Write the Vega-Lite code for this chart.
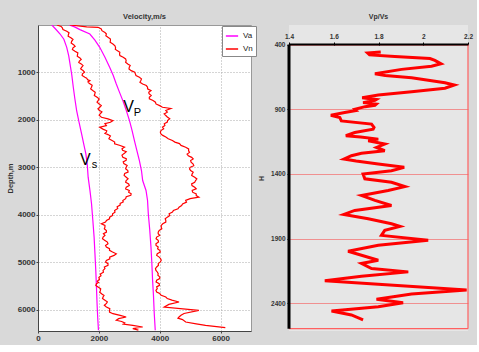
{
  "$schema": "https://vega.github.io/schema/vega-lite/v6.json",
  "background": "#d9d9d9",
  "padding": {"left": 5, "top": 12, "right": 4, "bottom": 2},
  "spacing": 5,
  "config": {
    "font": "Liberation Sans",
    "axis": {"labelFont": "Liberation Sans", "titleFont": "Liberation Sans", "labelFontWeight": "bold", "titleFontWeight": "bold", "labelColor": "#333", "titleColor": "#333"},
    "title": {"font": "Liberation Sans", "fontWeight": "bold", "color": "#333"},
    "legend": {"labelFont": "Liberation Sans"}
  },
  "datasets": {
    "vel": [
      {"curve": "Va_s", "type": "Va", "depth": 0, "v": 456},
      {"curve": "Va_s", "type": "Va", "depth": 100, "v": 600},
      {"curve": "Va_s", "type": "Va", "depth": 190, "v": 726},
      {"curve": "Va_s", "type": "Va", "depth": 300, "v": 850},
      {"curve": "Va_s", "type": "Va", "depth": 471, "v": 944},
      {"curve": "Va_s", "type": "Va", "depth": 650, "v": 1010},
      {"curve": "Va_s", "type": "Va", "depth": 821, "v": 1052},
      {"curve": "Va_s", "type": "Va", "depth": 1050, "v": 1110},
      {"curve": "Va_s", "type": "Va", "depth": 1313, "v": 1160},
      {"curve": "Va_s", "type": "Va", "depth": 1550, "v": 1210},
      {"curve": "Va_s", "type": "Va", "depth": 1804, "v": 1270},
      {"curve": "Va_s", "type": "Va", "depth": 2050, "v": 1350},
      {"curve": "Va_s", "type": "Va", "depth": 2295, "v": 1433},
      {"curve": "Va_s", "type": "Va", "depth": 2500, "v": 1500},
      {"curve": "Va_s", "type": "Va", "depth": 2716, "v": 1573},
      {"curve": "Va_s", "type": "Va", "depth": 2950, "v": 1620},
      {"curve": "Va_s", "type": "Va", "depth": 3208, "v": 1648},
      {"curve": "Va_s", "type": "Va", "depth": 3500, "v": 1710},
      {"curve": "Va_s", "type": "Va", "depth": 3768, "v": 1759},
      {"curve": "Va_s", "type": "Va", "depth": 4100, "v": 1800},
      {"curve": "Va_s", "type": "Va", "depth": 4471, "v": 1844},
      {"curve": "Va_s", "type": "Va", "depth": 4800, "v": 1870},
      {"curve": "Va_s", "type": "Va", "depth": 5173, "v": 1899},
      {"curve": "Va_s", "type": "Va", "depth": 5500, "v": 1920},
      {"curve": "Va_s", "type": "Va", "depth": 5874, "v": 1941},
      {"curve": "Va_s", "type": "Va", "depth": 6200, "v": 1965},
      {"curve": "Va_s", "type": "Va", "depth": 6436, "v": 1987},
      {"curve": "Va_p", "type": "Va", "depth": 0, "v": 1030},
      {"curve": "Va_p", "type": "Va", "depth": 40, "v": 1200},
      {"curve": "Va_p", "type": "Va", "depth": 97, "v": 1378},
      {"curve": "Va_p", "type": "Va", "depth": 190, "v": 1704},
      {"curve": "Va_p", "type": "Va", "depth": 320, "v": 1870},
      {"curve": "Va_p", "type": "Va", "depth": 471, "v": 2029},
      {"curve": "Va_p", "type": "Va", "depth": 680, "v": 2200},
      {"curve": "Va_p", "type": "Va", "depth": 892, "v": 2355},
      {"curve": "Va_p", "type": "Va", "depth": 1060, "v": 2470},
      {"curve": "Va_p", "type": "Va", "depth": 1243, "v": 2573},
      {"curve": "Va_p", "type": "Va", "depth": 1420, "v": 2680},
      {"curve": "Va_p", "type": "Va", "depth": 1594, "v": 2788},
      {"curve": "Va_p", "type": "Va", "depth": 1800, "v": 2900},
      {"curve": "Va_p", "type": "Va", "depth": 2015, "v": 3007},
      {"curve": "Va_p", "type": "Va", "depth": 2220, "v": 3090},
      {"curve": "Va_p", "type": "Va", "depth": 2436, "v": 3169},
      {"curve": "Va_p", "type": "Va", "depth": 2650, "v": 3250},
      {"curve": "Va_p", "type": "Va", "depth": 2857, "v": 3332},
      {"curve": "Va_p", "type": "Va", "depth": 3067, "v": 3400},
      {"curve": "Va_p", "type": "Va", "depth": 3278, "v": 3440},
      {"curve": "Va_p", "type": "Va", "depth": 3488, "v": 3550},
      {"curve": "Va_p", "type": "Va", "depth": 3700, "v": 3600},
      {"curve": "Va_p", "type": "Va", "depth": 3980, "v": 3625},
      {"curve": "Va_p", "type": "Va", "depth": 4300, "v": 3670},
      {"curve": "Va_p", "type": "Va", "depth": 4682, "v": 3713},
      {"curve": "Va_p", "type": "Va", "depth": 5000, "v": 3740},
      {"curve": "Va_p", "type": "Va", "depth": 5383, "v": 3766},
      {"curve": "Va_p", "type": "Va", "depth": 5700, "v": 3795},
      {"curve": "Va_p", "type": "Va", "depth": 6085, "v": 3821},
      {"curve": "Va_p", "type": "Va", "depth": 6436, "v": 3853},
      {"curve": "Vn_s", "type": "Vn", "depth": 0, "v": 620},
      {"curve": "Vn_s", "type": "Vn", "depth": 30, "v": 760},
      {"curve": "Vn_s", "type": "Vn", "depth": 60, "v": 800},
      {"curve": "Vn_s", "type": "Vn", "depth": 95, "v": 820},
      {"curve": "Vn_s", "type": "Vn", "depth": 130, "v": 945},
      {"curve": "Vn_s", "type": "Vn", "depth": 165, "v": 1020},
      {"curve": "Vn_s", "type": "Vn", "depth": 200, "v": 1000},
      {"curve": "Vn_s", "type": "Vn", "depth": 235, "v": 990},
      {"curve": "Vn_s", "type": "Vn", "depth": 270, "v": 1080},
      {"curve": "Vn_s", "type": "Vn", "depth": 305, "v": 1150},
      {"curve": "Vn_s", "type": "Vn", "depth": 343, "v": 1107},
      {"curve": "Vn_s", "type": "Vn", "depth": 380, "v": 1090},
      {"curve": "Vn_s", "type": "Vn", "depth": 420, "v": 1180},
      {"curve": "Vn_s", "type": "Vn", "depth": 450, "v": 1220},
      {"curve": "Vn_s", "type": "Vn", "depth": 480, "v": 1150},
      {"curve": "Vn_s", "type": "Vn", "depth": 517, "v": 1130},
      {"curve": "Vn_s", "type": "Vn", "depth": 554, "v": 1215},
      {"curve": "Vn_s", "type": "Vn", "depth": 587, "v": 1310},
      {"curve": "Vn_s", "type": "Vn", "depth": 620, "v": 1300},
      {"curve": "Vn_s", "type": "Vn", "depth": 657, "v": 1290},
      {"curve": "Vn_s", "type": "Vn", "depth": 694, "v": 1378},
      {"curve": "Vn_s", "type": "Vn", "depth": 727, "v": 1420},
      {"curve": "Vn_s", "type": "Vn", "depth": 760, "v": 1360},
      {"curve": "Vn_s", "type": "Vn", "depth": 790, "v": 1340},
      {"curve": "Vn_s", "type": "Vn", "depth": 820, "v": 1420},
      {"curve": "Vn_s", "type": "Vn", "depth": 856, "v": 1480},
      {"curve": "Vn_s", "type": "Vn", "depth": 892, "v": 1433},
      {"curve": "Vn_s", "type": "Vn", "depth": 926, "v": 1400},
      {"curve": "Vn_s", "type": "Vn", "depth": 960, "v": 1480},
      {"curve": "Vn_s", "type": "Vn", "depth": 995, "v": 1530},
      {"curve": "Vn_s", "type": "Vn", "depth": 1030, "v": 1460},
      {"curve": "Vn_s", "type": "Vn", "depth": 1066, "v": 1450},
      {"curve": "Vn_s", "type": "Vn", "depth": 1103, "v": 1541},
      {"curve": "Vn_s", "type": "Vn", "depth": 1120, "v": 1600},
      {"curve": "Vn_s", "type": "Vn", "depth": 1140, "v": 1620},
      {"curve": "Vn_s", "type": "Vn", "depth": 1157, "v": 1640},
      {"curve": "Vn_s", "type": "Vn", "depth": 1173, "v": 1704},
      {"curve": "Vn_s", "type": "Vn", "depth": 1200, "v": 1640},
      {"curve": "Vn_s", "type": "Vn", "depth": 1230, "v": 1680},
      {"curve": "Vn_s", "type": "Vn", "depth": 1270, "v": 1780},
      {"curve": "Vn_s", "type": "Vn", "depth": 1313, "v": 1759},
      {"curve": "Vn_s", "type": "Vn", "depth": 1346, "v": 1730},
      {"curve": "Vn_s", "type": "Vn", "depth": 1380, "v": 1800},
      {"curve": "Vn_s", "type": "Vn", "depth": 1417, "v": 1880},
      {"curve": "Vn_s", "type": "Vn", "depth": 1454, "v": 1866},
      {"curve": "Vn_s", "type": "Vn", "depth": 1487, "v": 1850},
      {"curve": "Vn_s", "type": "Vn", "depth": 1520, "v": 1930},
      {"curve": "Vn_s", "type": "Vn", "depth": 1557, "v": 2010},
      {"curve": "Vn_s", "type": "Vn", "depth": 1594, "v": 1974},
      {"curve": "Vn_s", "type": "Vn", "depth": 1627, "v": 1940},
      {"curve": "Vn_s", "type": "Vn", "depth": 1660, "v": 2000},
      {"curve": "Vn_s", "type": "Vn", "depth": 1697, "v": 2080},
      {"curve": "Vn_s", "type": "Vn", "depth": 1734, "v": 2029},
      {"curve": "Vn_s", "type": "Vn", "depth": 1767, "v": 1970},
      {"curve": "Vn_s", "type": "Vn", "depth": 1800, "v": 2010},
      {"curve": "Vn_s", "type": "Vn", "depth": 1830, "v": 2100},
      {"curve": "Vn_s", "type": "Vn", "depth": 1860, "v": 2060},
      {"curve": "Vn_s", "type": "Vn", "depth": 1900, "v": 2010},
      {"curve": "Vn_s", "type": "Vn", "depth": 1945, "v": 2084},
      {"curve": "Vn_s", "type": "Vn", "depth": 1980, "v": 2300},
      {"curve": "Vn_s", "type": "Vn", "depth": 2015, "v": 2462},
      {"curve": "Vn_s", "type": "Vn", "depth": 2050, "v": 2380},
      {"curve": "Vn_s", "type": "Vn", "depth": 2080, "v": 2200},
      {"curve": "Vn_s", "type": "Vn", "depth": 2120, "v": 2247},
      {"curve": "Vn_s", "type": "Vn", "depth": 2155, "v": 2029},
      {"curve": "Vn_s", "type": "Vn", "depth": 2200, "v": 2150},
      {"curve": "Vn_s", "type": "Vn", "depth": 2230, "v": 2260},
      {"curve": "Vn_s", "type": "Vn", "depth": 2260, "v": 2247},
      {"curve": "Vn_s", "type": "Vn", "depth": 2285, "v": 2200},
      {"curve": "Vn_s", "type": "Vn", "depth": 2310, "v": 2300},
      {"curve": "Vn_s", "type": "Vn", "depth": 2338, "v": 2380},
      {"curve": "Vn_s", "type": "Vn", "depth": 2366, "v": 2355},
      {"curve": "Vn_s", "type": "Vn", "depth": 2398, "v": 2330},
      {"curve": "Vn_s", "type": "Vn", "depth": 2430, "v": 2420},
      {"curve": "Vn_s", "type": "Vn", "depth": 2468, "v": 2520},
      {"curve": "Vn_s", "type": "Vn", "depth": 2506, "v": 2518},
      {"curve": "Vn_s", "type": "Vn", "depth": 2540, "v": 2700},
      {"curve": "Vn_s", "type": "Vn", "depth": 2576, "v": 2843},
      {"curve": "Vn_s", "type": "Vn", "depth": 2608, "v": 2760},
      {"curve": "Vn_s", "type": "Vn", "depth": 2640, "v": 2780},
      {"curve": "Vn_s", "type": "Vn", "depth": 2670, "v": 2900},
      {"curve": "Vn_s", "type": "Vn", "depth": 2700, "v": 2850},
      {"curve": "Vn_s", "type": "Vn", "depth": 2743, "v": 2760},
      {"curve": "Vn_s", "type": "Vn", "depth": 2787, "v": 2788},
      {"curve": "Vn_s", "type": "Vn", "depth": 2818, "v": 2900},
      {"curve": "Vn_s", "type": "Vn", "depth": 2850, "v": 2900},
      {"curve": "Vn_s", "type": "Vn", "depth": 2885, "v": 2800},
      {"curve": "Vn_s", "type": "Vn", "depth": 2920, "v": 2820},
      {"curve": "Vn_s", "type": "Vn", "depth": 2960, "v": 2930},
      {"curve": "Vn_s", "type": "Vn", "depth": 2998, "v": 2897},
      {"curve": "Vn_s", "type": "Vn", "depth": 3030, "v": 2880},
      {"curve": "Vn_s", "type": "Vn", "depth": 3067, "v": 2951},
      {"curve": "Vn_s", "type": "Vn", "depth": 3100, "v": 2960},
      {"curve": "Vn_s", "type": "Vn", "depth": 3130, "v": 2850},
      {"curve": "Vn_s", "type": "Vn", "depth": 3170, "v": 2830},
      {"curve": "Vn_s", "type": "Vn", "depth": 3208, "v": 2900},
      {"curve": "Vn_s", "type": "Vn", "depth": 3243, "v": 2960},
      {"curve": "Vn_s", "type": "Vn", "depth": 3278, "v": 2897},
      {"curve": "Vn_s", "type": "Vn", "depth": 3314, "v": 2880},
      {"curve": "Vn_s", "type": "Vn", "depth": 3350, "v": 2980},
      {"curve": "Vn_s", "type": "Vn", "depth": 3385, "v": 3000},
      {"curve": "Vn_s", "type": "Vn", "depth": 3420, "v": 2900},
      {"curve": "Vn_s", "type": "Vn", "depth": 3455, "v": 2880},
      {"curve": "Vn_s", "type": "Vn", "depth": 3490, "v": 3000},
      {"curve": "Vn_s", "type": "Vn", "depth": 3524, "v": 2980},
      {"curve": "Vn_s", "type": "Vn", "depth": 3558, "v": 3062},
      {"curve": "Vn_s", "type": "Vn", "depth": 3590, "v": 3050},
      {"curve": "Vn_s", "type": "Vn", "depth": 3620, "v": 2900},
      {"curve": "Vn_s", "type": "Vn", "depth": 3660, "v": 2880},
      {"curve": "Vn_s", "type": "Vn", "depth": 3698, "v": 2788},
      {"curve": "Vn_s", "type": "Vn", "depth": 3730, "v": 2800},
      {"curve": "Vn_s", "type": "Vn", "depth": 3760, "v": 2700},
      {"curve": "Vn_s", "type": "Vn", "depth": 3795, "v": 2700},
      {"curve": "Vn_s", "type": "Vn", "depth": 3830, "v": 2600},
      {"curve": "Vn_s", "type": "Vn", "depth": 3870, "v": 2620},
      {"curve": "Vn_s", "type": "Vn", "depth": 3909, "v": 2518},
      {"curve": "Vn_s", "type": "Vn", "depth": 3945, "v": 2530},
      {"curve": "Vn_s", "type": "Vn", "depth": 3980, "v": 2450},
      {"curve": "Vn_s", "type": "Vn", "depth": 4015, "v": 2450},
      {"curve": "Vn_s", "type": "Vn", "depth": 4050, "v": 2355},
      {"curve": "Vn_s", "type": "Vn", "depth": 4085, "v": 2350},
      {"curve": "Vn_s", "type": "Vn", "depth": 4120, "v": 2250},
      {"curve": "Vn_s", "type": "Vn", "depth": 4155, "v": 2220},
      {"curve": "Vn_s", "type": "Vn", "depth": 4190, "v": 2084},
      {"curve": "Vn_s", "type": "Vn", "depth": 4225, "v": 2200},
      {"curve": "Vn_s", "type": "Vn", "depth": 4260, "v": 2200},
      {"curve": "Vn_s", "type": "Vn", "depth": 4295, "v": 2180},
      {"curve": "Vn_s", "type": "Vn", "depth": 4331, "v": 2247},
      {"curve": "Vn_s", "type": "Vn", "depth": 4365, "v": 2250},
      {"curve": "Vn_s", "type": "Vn", "depth": 4400, "v": 2150},
      {"curve": "Vn_s", "type": "Vn", "depth": 4435, "v": 2200},
      {"curve": "Vn_s", "type": "Vn", "depth": 4471, "v": 2138},
      {"curve": "Vn_s", "type": "Vn", "depth": 4505, "v": 2120},
      {"curve": "Vn_s", "type": "Vn", "depth": 4540, "v": 2200},
      {"curve": "Vn_s", "type": "Vn", "depth": 4575, "v": 2280},
      {"curve": "Vn_s", "type": "Vn", "depth": 4610, "v": 2300},
      {"curve": "Vn_s", "type": "Vn", "depth": 4646, "v": 2220},
      {"curve": "Vn_s", "type": "Vn", "depth": 4682, "v": 2247},
      {"curve": "Vn_s", "type": "Vn", "depth": 4716, "v": 2350},
      {"curve": "Vn_s", "type": "Vn", "depth": 4750, "v": 2350},
      {"curve": "Vn_s", "type": "Vn", "depth": 4786, "v": 2450},
      {"curve": "Vn_s", "type": "Vn", "depth": 4822, "v": 2573},
      {"curve": "Vn_s", "type": "Vn", "depth": 4857, "v": 2500},
      {"curve": "Vn_s", "type": "Vn", "depth": 4892, "v": 2355},
      {"curve": "Vn_s", "type": "Vn", "depth": 4928, "v": 2360},
      {"curve": "Vn_s", "type": "Vn", "depth": 4963, "v": 2247},
      {"curve": "Vn_s", "type": "Vn", "depth": 4996, "v": 2220},
      {"curve": "Vn_s", "type": "Vn", "depth": 5030, "v": 2300},
      {"curve": "Vn_s", "type": "Vn", "depth": 5065, "v": 2300},
      {"curve": "Vn_s", "type": "Vn", "depth": 5100, "v": 2180},
      {"curve": "Vn_s", "type": "Vn", "depth": 5136, "v": 2200},
      {"curve": "Vn_s", "type": "Vn", "depth": 5173, "v": 2138},
      {"curve": "Vn_s", "type": "Vn", "depth": 5210, "v": 2150},
      {"curve": "Vn_s", "type": "Vn", "depth": 5250, "v": 2050},
      {"curve": "Vn_s", "type": "Vn", "depth": 5285, "v": 2070},
      {"curve": "Vn_s", "type": "Vn", "depth": 5320, "v": 2000},
      {"curve": "Vn_s", "type": "Vn", "depth": 5360, "v": 2020},
      {"curve": "Vn_s", "type": "Vn", "depth": 5400, "v": 1950},
      {"curve": "Vn_s", "type": "Vn", "depth": 5427, "v": 1990},
      {"curve": "Vn_s", "type": "Vn", "depth": 5454, "v": 1921},
      {"curve": "Vn_s", "type": "Vn", "depth": 5490, "v": 1900},
      {"curve": "Vn_s", "type": "Vn", "depth": 5523, "v": 1974},
      {"curve": "Vn_s", "type": "Vn", "depth": 5560, "v": 2060},
      {"curve": "Vn_s", "type": "Vn", "depth": 5600, "v": 2050},
      {"curve": "Vn_s", "type": "Vn", "depth": 5635, "v": 2030},
      {"curve": "Vn_s", "type": "Vn", "depth": 5670, "v": 2100},
      {"curve": "Vn_s", "type": "Vn", "depth": 5700, "v": 2170},
      {"curve": "Vn_s", "type": "Vn", "depth": 5734, "v": 2138},
      {"curve": "Vn_s", "type": "Vn", "depth": 5767, "v": 2120},
      {"curve": "Vn_s", "type": "Vn", "depth": 5800, "v": 2200},
      {"curve": "Vn_s", "type": "Vn", "depth": 5835, "v": 2280},
      {"curve": "Vn_s", "type": "Vn", "depth": 5870, "v": 2250},
      {"curve": "Vn_s", "type": "Vn", "depth": 5908, "v": 2180},
      {"curve": "Vn_s", "type": "Vn", "depth": 5945, "v": 2247},
      {"curve": "Vn_s", "type": "Vn", "depth": 5980, "v": 2360},
      {"curve": "Vn_s", "type": "Vn", "depth": 6015, "v": 2350},
      {"curve": "Vn_s", "type": "Vn", "depth": 6050, "v": 2350},
      {"curve": "Vn_s", "type": "Vn", "depth": 6085, "v": 2462},
      {"curve": "Vn_s", "type": "Vn", "depth": 6120, "v": 2700},
      {"curve": "Vn_s", "type": "Vn", "depth": 6155, "v": 2897},
      {"curve": "Vn_s", "type": "Vn", "depth": 6190, "v": 2650},
      {"curve": "Vn_s", "type": "Vn", "depth": 6225, "v": 2573},
      {"curve": "Vn_s", "type": "Vn", "depth": 6250, "v": 2750},
      {"curve": "Vn_s", "type": "Vn", "depth": 6280, "v": 2850},
      {"curve": "Vn_s", "type": "Vn", "depth": 6305, "v": 2800},
      {"curve": "Vn_s", "type": "Vn", "depth": 6331, "v": 3115},
      {"curve": "Vn_s", "type": "Vn", "depth": 6366, "v": 3440},
      {"curve": "Vn_s", "type": "Vn", "depth": 6401, "v": 3115},
      {"curve": "Vn_s", "type": "Vn", "depth": 6430, "v": 3300},
      {"curve": "Vn_p", "type": "Vn", "depth": 0, "v": 1050},
      {"curve": "Vn_p", "type": "Vn", "depth": 40, "v": 1600},
      {"curve": "Vn_p", "type": "Vn", "depth": 49, "v": 1974},
      {"curve": "Vn_p", "type": "Vn", "depth": 85, "v": 2080},
      {"curve": "Vn_p", "type": "Vn", "depth": 120, "v": 2100},
      {"curve": "Vn_p", "type": "Vn", "depth": 155, "v": 2200},
      {"curve": "Vn_p", "type": "Vn", "depth": 190, "v": 2247},
      {"curve": "Vn_p", "type": "Vn", "depth": 225, "v": 2230},
      {"curve": "Vn_p", "type": "Vn", "depth": 260, "v": 2300},
      {"curve": "Vn_p", "type": "Vn", "depth": 295, "v": 2380},
      {"curve": "Vn_p", "type": "Vn", "depth": 330, "v": 2380},
      {"curve": "Vn_p", "type": "Vn", "depth": 365, "v": 2370},
      {"curve": "Vn_p", "type": "Vn", "depth": 400, "v": 2462},
      {"curve": "Vn_p", "type": "Vn", "depth": 440, "v": 2530},
      {"curve": "Vn_p", "type": "Vn", "depth": 480, "v": 2550},
      {"curve": "Vn_p", "type": "Vn", "depth": 510, "v": 2540},
      {"curve": "Vn_p", "type": "Vn", "depth": 540, "v": 2600},
      {"curve": "Vn_p", "type": "Vn", "depth": 575, "v": 2690},
      {"curve": "Vn_p", "type": "Vn", "depth": 610, "v": 2680},
      {"curve": "Vn_p", "type": "Vn", "depth": 645, "v": 2690},
      {"curve": "Vn_p", "type": "Vn", "depth": 680, "v": 2800},
      {"curve": "Vn_p", "type": "Vn", "depth": 715, "v": 2880},
      {"curve": "Vn_p", "type": "Vn", "depth": 751, "v": 2897},
      {"curve": "Vn_p", "type": "Vn", "depth": 785, "v": 2880},
      {"curve": "Vn_p", "type": "Vn", "depth": 820, "v": 2950},
      {"curve": "Vn_p", "type": "Vn", "depth": 855, "v": 3030},
      {"curve": "Vn_p", "type": "Vn", "depth": 890, "v": 3000},
      {"curve": "Vn_p", "type": "Vn", "depth": 926, "v": 2990},
      {"curve": "Vn_p", "type": "Vn", "depth": 962, "v": 3062},
      {"curve": "Vn_p", "type": "Vn", "depth": 996, "v": 3180},
      {"curve": "Vn_p", "type": "Vn", "depth": 1030, "v": 3200},
      {"curve": "Vn_p", "type": "Vn", "depth": 1066, "v": 3220},
      {"curve": "Vn_p", "type": "Vn", "depth": 1103, "v": 3332},
      {"curve": "Vn_p", "type": "Vn", "depth": 1136, "v": 3400},
      {"curve": "Vn_p", "type": "Vn", "depth": 1170, "v": 3380},
      {"curve": "Vn_p", "type": "Vn", "depth": 1206, "v": 3350},
      {"curve": "Vn_p", "type": "Vn", "depth": 1243, "v": 3440},
      {"curve": "Vn_p", "type": "Vn", "depth": 1276, "v": 3560},
      {"curve": "Vn_p", "type": "Vn", "depth": 1310, "v": 3600},
      {"curve": "Vn_p", "type": "Vn", "depth": 1346, "v": 3600},
      {"curve": "Vn_p", "type": "Vn", "depth": 1383, "v": 3713},
      {"curve": "Vn_p", "type": "Vn", "depth": 1416, "v": 3640},
      {"curve": "Vn_p", "type": "Vn", "depth": 1450, "v": 3650},
      {"curve": "Vn_p", "type": "Vn", "depth": 1487, "v": 3720},
      {"curve": "Vn_p", "type": "Vn", "depth": 1524, "v": 3658},
      {"curve": "Vn_p", "type": "Vn", "depth": 1557, "v": 3660},
      {"curve": "Vn_p", "type": "Vn", "depth": 1590, "v": 3780},
      {"curve": "Vn_p", "type": "Vn", "depth": 1627, "v": 3860},
      {"curve": "Vn_p", "type": "Vn", "depth": 1664, "v": 3876},
      {"curve": "Vn_p", "type": "Vn", "depth": 1700, "v": 4000},
      {"curve": "Vn_p", "type": "Vn", "depth": 1734, "v": 4091},
      {"curve": "Vn_p", "type": "Vn", "depth": 1760, "v": 4365},
      {"curve": "Vn_p", "type": "Vn", "depth": 1800, "v": 4200},
      {"curve": "Vn_p", "type": "Vn", "depth": 1837, "v": 4250},
      {"curve": "Vn_p", "type": "Vn", "depth": 1875, "v": 4147},
      {"curve": "Vn_p", "type": "Vn", "depth": 1907, "v": 4200},
      {"curve": "Vn_p", "type": "Vn", "depth": 1940, "v": 4250},
      {"curve": "Vn_p", "type": "Vn", "depth": 1977, "v": 4330},
      {"curve": "Vn_p", "type": "Vn", "depth": 2015, "v": 4255},
      {"curve": "Vn_p", "type": "Vn", "depth": 2047, "v": 4250},
      {"curve": "Vn_p", "type": "Vn", "depth": 2080, "v": 4150},
      {"curve": "Vn_p", "type": "Vn", "depth": 2117, "v": 4170},
      {"curve": "Vn_p", "type": "Vn", "depth": 2155, "v": 4091},
      {"curve": "Vn_p", "type": "Vn", "depth": 2187, "v": 4130},
      {"curve": "Vn_p", "type": "Vn", "depth": 2220, "v": 4050},
      {"curve": "Vn_p", "type": "Vn", "depth": 2257, "v": 4020},
      {"curve": "Vn_p", "type": "Vn", "depth": 2295, "v": 4039},
      {"curve": "Vn_p", "type": "Vn", "depth": 2327, "v": 4100},
      {"curve": "Vn_p", "type": "Vn", "depth": 2360, "v": 4200},
      {"curve": "Vn_p", "type": "Vn", "depth": 2398, "v": 4280},
      {"curve": "Vn_p", "type": "Vn", "depth": 2436, "v": 4417},
      {"curve": "Vn_p", "type": "Vn", "depth": 2468, "v": 4500},
      {"curve": "Vn_p", "type": "Vn", "depth": 2500, "v": 4650},
      {"curve": "Vn_p", "type": "Vn", "depth": 2538, "v": 4700},
      {"curve": "Vn_p", "type": "Vn", "depth": 2576, "v": 4853},
      {"curve": "Vn_p", "type": "Vn", "depth": 2613, "v": 4950},
      {"curve": "Vn_p", "type": "Vn", "depth": 2650, "v": 4950},
      {"curve": "Vn_p", "type": "Vn", "depth": 2685, "v": 4980},
      {"curve": "Vn_p", "type": "Vn", "depth": 2720, "v": 4900},
      {"curve": "Vn_p", "type": "Vn", "depth": 2755, "v": 4940},
      {"curve": "Vn_p", "type": "Vn", "depth": 2790, "v": 5050},
      {"curve": "Vn_p", "type": "Vn", "depth": 2823, "v": 5100},
      {"curve": "Vn_p", "type": "Vn", "depth": 2857, "v": 5016},
      {"curve": "Vn_p", "type": "Vn", "depth": 2893, "v": 5030},
      {"curve": "Vn_p", "type": "Vn", "depth": 2930, "v": 5100},
      {"curve": "Vn_p", "type": "Vn", "depth": 2965, "v": 5120},
      {"curve": "Vn_p", "type": "Vn", "depth": 3000, "v": 5000},
      {"curve": "Vn_p", "type": "Vn", "depth": 3033, "v": 4980},
      {"curve": "Vn_p", "type": "Vn", "depth": 3067, "v": 5016},
      {"curve": "Vn_p", "type": "Vn", "depth": 3102, "v": 5100},
      {"curve": "Vn_p", "type": "Vn", "depth": 3137, "v": 5068},
      {"curve": "Vn_p", "type": "Vn", "depth": 3173, "v": 5050},
      {"curve": "Vn_p", "type": "Vn", "depth": 3210, "v": 5150},
      {"curve": "Vn_p", "type": "Vn", "depth": 3244, "v": 5220},
      {"curve": "Vn_p", "type": "Vn", "depth": 3278, "v": 5179},
      {"curve": "Vn_p", "type": "Vn", "depth": 3314, "v": 5150},
      {"curve": "Vn_p", "type": "Vn", "depth": 3350, "v": 5050},
      {"curve": "Vn_p", "type": "Vn", "depth": 3385, "v": 5060},
      {"curve": "Vn_p", "type": "Vn", "depth": 3420, "v": 5150},
      {"curve": "Vn_p", "type": "Vn", "depth": 3454, "v": 5200},
      {"curve": "Vn_p", "type": "Vn", "depth": 3488, "v": 5068},
      {"curve": "Vn_p", "type": "Vn", "depth": 3524, "v": 5080},
      {"curve": "Vn_p", "type": "Vn", "depth": 3560, "v": 5200},
      {"curve": "Vn_p", "type": "Vn", "depth": 3595, "v": 5200},
      {"curve": "Vn_p", "type": "Vn", "depth": 3629, "v": 5287},
      {"curve": "Vn_p", "type": "Vn", "depth": 3660, "v": 5000},
      {"curve": "Vn_p", "type": "Vn", "depth": 3698, "v": 4853},
      {"curve": "Vn_p", "type": "Vn", "depth": 3734, "v": 4880},
      {"curve": "Vn_p", "type": "Vn", "depth": 3770, "v": 4750},
      {"curve": "Vn_p", "type": "Vn", "depth": 3805, "v": 4720},
      {"curve": "Vn_p", "type": "Vn", "depth": 3839, "v": 4635},
      {"curve": "Vn_p", "type": "Vn", "depth": 3875, "v": 4600},
      {"curve": "Vn_p", "type": "Vn", "depth": 3910, "v": 4450},
      {"curve": "Vn_p", "type": "Vn", "depth": 3945, "v": 4420},
      {"curve": "Vn_p", "type": "Vn", "depth": 3980, "v": 4309},
      {"curve": "Vn_p", "type": "Vn", "depth": 4015, "v": 4330},
      {"curve": "Vn_p", "type": "Vn", "depth": 4050, "v": 4250},
      {"curve": "Vn_p", "type": "Vn", "depth": 4085, "v": 4180},
      {"curve": "Vn_p", "type": "Vn", "depth": 4120, "v": 4200},
      {"curve": "Vn_p", "type": "Vn", "depth": 4155, "v": 4200},
      {"curve": "Vn_p", "type": "Vn", "depth": 4190, "v": 4100},
      {"curve": "Vn_p", "type": "Vn", "depth": 4225, "v": 4050},
      {"curve": "Vn_p", "type": "Vn", "depth": 4260, "v": 4050},
      {"curve": "Vn_p", "type": "Vn", "depth": 4295, "v": 4070},
      {"curve": "Vn_p", "type": "Vn", "depth": 4331, "v": 3984},
      {"curve": "Vn_p", "type": "Vn", "depth": 4365, "v": 3950},
      {"curve": "Vn_p", "type": "Vn", "depth": 4400, "v": 3950},
      {"curve": "Vn_p", "type": "Vn", "depth": 4435, "v": 4000},
      {"curve": "Vn_p", "type": "Vn", "depth": 4470, "v": 3900},
      {"curve": "Vn_p", "type": "Vn", "depth": 4505, "v": 3880},
      {"curve": "Vn_p", "type": "Vn", "depth": 4540, "v": 3950},
      {"curve": "Vn_p", "type": "Vn", "depth": 4576, "v": 3960},
      {"curve": "Vn_p", "type": "Vn", "depth": 4612, "v": 3876},
      {"curve": "Vn_p", "type": "Vn", "depth": 4646, "v": 3880},
      {"curve": "Vn_p", "type": "Vn", "depth": 4680, "v": 3950},
      {"curve": "Vn_p", "type": "Vn", "depth": 4715, "v": 3930},
      {"curve": "Vn_p", "type": "Vn", "depth": 4750, "v": 4000},
      {"curve": "Vn_p", "type": "Vn", "depth": 4785, "v": 4020},
      {"curve": "Vn_p", "type": "Vn", "depth": 4820, "v": 3920},
      {"curve": "Vn_p", "type": "Vn", "depth": 4856, "v": 3900},
      {"curve": "Vn_p", "type": "Vn", "depth": 4892, "v": 3984},
      {"curve": "Vn_p", "type": "Vn", "depth": 4926, "v": 4030},
      {"curve": "Vn_p", "type": "Vn", "depth": 4960, "v": 4050},
      {"curve": "Vn_p", "type": "Vn", "depth": 4995, "v": 4020},
      {"curve": "Vn_p", "type": "Vn", "depth": 5030, "v": 3950},
      {"curve": "Vn_p", "type": "Vn", "depth": 5065, "v": 3960},
      {"curve": "Vn_p", "type": "Vn", "depth": 5100, "v": 3900},
      {"curve": "Vn_p", "type": "Vn", "depth": 5136, "v": 3860},
      {"curve": "Vn_p", "type": "Vn", "depth": 5173, "v": 3876},
      {"curve": "Vn_p", "type": "Vn", "depth": 5206, "v": 3920},
      {"curve": "Vn_p", "type": "Vn", "depth": 5240, "v": 3950},
      {"curve": "Vn_p", "type": "Vn", "depth": 5275, "v": 3940},
      {"curve": "Vn_p", "type": "Vn", "depth": 5310, "v": 4000},
      {"curve": "Vn_p", "type": "Vn", "depth": 5345, "v": 4000},
      {"curve": "Vn_p", "type": "Vn", "depth": 5380, "v": 3900},
      {"curve": "Vn_p", "type": "Vn", "depth": 5417, "v": 3880},
      {"curve": "Vn_p", "type": "Vn", "depth": 5454, "v": 3984},
      {"curve": "Vn_p", "type": "Vn", "depth": 5487, "v": 3990},
      {"curve": "Vn_p", "type": "Vn", "depth": 5520, "v": 3900},
      {"curve": "Vn_p", "type": "Vn", "depth": 5557, "v": 3920},
      {"curve": "Vn_p", "type": "Vn", "depth": 5594, "v": 3876},
      {"curve": "Vn_p", "type": "Vn", "depth": 5627, "v": 3900},
      {"curve": "Vn_p", "type": "Vn", "depth": 5660, "v": 4000},
      {"curve": "Vn_p", "type": "Vn", "depth": 5697, "v": 4050},
      {"curve": "Vn_p", "type": "Vn", "depth": 5734, "v": 4200},
      {"curve": "Vn_p", "type": "Vn", "depth": 5767, "v": 4250},
      {"curve": "Vn_p", "type": "Vn", "depth": 5800, "v": 4400},
      {"curve": "Vn_p", "type": "Vn", "depth": 5839, "v": 4635},
      {"curve": "Vn_p", "type": "Vn", "depth": 5890, "v": 4300},
      {"curve": "Vn_p", "type": "Vn", "depth": 5945, "v": 4147},
      {"curve": "Vn_p", "type": "Vn", "depth": 6015, "v": 5287},
      {"curve": "Vn_p", "type": "Vn", "depth": 6080, "v": 4800},
      {"curve": "Vn_p", "type": "Vn", "depth": 6118, "v": 4700},
      {"curve": "Vn_p", "type": "Vn", "depth": 6155, "v": 4635},
      {"curve": "Vn_p", "type": "Vn", "depth": 6180, "v": 4600},
      {"curve": "Vn_p", "type": "Vn", "depth": 6210, "v": 4750},
      {"curve": "Vn_p", "type": "Vn", "depth": 6260, "v": 4853},
      {"curve": "Vn_p", "type": "Vn", "depth": 6300, "v": 5200},
      {"curve": "Vn_p", "type": "Vn", "depth": 6331, "v": 5505},
      {"curve": "Vn_p", "type": "Vn", "depth": 6380, "v": 6156}
    ],
    "notes": [
      {"t": "V", "kind": "main", "v": 1557, "depth": 2848},
      {"t": "s", "kind": "sub", "v": 1860, "depth": 2960},
      {"t": "V", "kind": "main", "v": 2974, "depth": 1733},
      {"t": "P", "kind": "sub", "v": 3270, "depth": 1850}
    ],
    "frame": [
      {"x": 1.4, "x2": 1.4, "y": 400, "y2": 2596, "side": "left"},
      {"x": 1.4, "x2": 2.2, "y": 400, "y2": 400, "side": "top"},
      {"x": 2.2, "x2": 2.2, "y": 400, "y2": 2596, "side": "right"},
      {"x": 1.4, "x2": 2.2, "y": 2596, "y2": 2596, "side": "bottom"}
    ],
    "ratio": [
      {"depth": 457, "ratio": 1.81}, {"depth": 465, "ratio": 1.751}, {"depth": 480, "ratio": 1.76},
      {"depth": 492, "ratio": 1.873}, {"depth": 508, "ratio": 2.03}, {"depth": 523, "ratio": 2.052},
      {"depth": 549, "ratio": 2.079}, {"depth": 567, "ratio": 2.037}, {"depth": 592, "ratio": 1.903},
      {"depth": 626, "ratio": 1.784}, {"depth": 640, "ratio": 1.83}, {"depth": 657, "ratio": 1.948},
      {"depth": 695, "ratio": 2.097}, {"depth": 713, "ratio": 2.139}, {"depth": 738, "ratio": 2.097},
      {"depth": 765, "ratio": 1.948}, {"depth": 790, "ratio": 1.799}, {"depth": 811, "ratio": 1.727},
      {"depth": 825, "ratio": 1.79}, {"depth": 831, "ratio": 1.784}, {"depth": 849, "ratio": 1.731},
      {"depth": 860, "ratio": 1.79}, {"depth": 869, "ratio": 1.784}, {"depth": 880, "ratio": 1.74},
      {"depth": 900, "ratio": 1.694}, {"depth": 910, "ratio": 1.7}, {"depth": 926, "ratio": 1.649},
      {"depth": 946, "ratio": 1.587}, {"depth": 965, "ratio": 1.627}, {"depth": 990, "ratio": 1.634},
      {"depth": 1015, "ratio": 1.769}, {"depth": 1040, "ratio": 1.78}, {"depth": 1054, "ratio": 1.776},
      {"depth": 1080, "ratio": 1.694}, {"depth": 1105, "ratio": 1.654}, {"depth": 1115, "ratio": 1.72},
      {"depth": 1131, "ratio": 1.799}, {"depth": 1144, "ratio": 1.754}, {"depth": 1169, "ratio": 1.828},
      {"depth": 1195, "ratio": 1.791}, {"depth": 1221, "ratio": 1.828}, {"depth": 1241, "ratio": 1.724},
      {"depth": 1259, "ratio": 1.679}, {"depth": 1285, "ratio": 1.646}, {"depth": 1300, "ratio": 1.7},
      {"depth": 1323, "ratio": 1.799}, {"depth": 1349, "ratio": 1.915}, {"depth": 1375, "ratio": 1.858},
      {"depth": 1400, "ratio": 1.731}, {"depth": 1438, "ratio": 1.739}, {"depth": 1464, "ratio": 1.858},
      {"depth": 1498, "ratio": 1.918}, {"depth": 1528, "ratio": 1.843}, {"depth": 1567, "ratio": 1.724},
      {"depth": 1605, "ratio": 1.784}, {"depth": 1644, "ratio": 1.858}, {"depth": 1682, "ratio": 1.694},
      {"depth": 1713, "ratio": 1.645}, {"depth": 1746, "ratio": 1.754}, {"depth": 1785, "ratio": 1.858},
      {"depth": 1805, "ratio": 1.896}, {"depth": 1836, "ratio": 1.828}, {"depth": 1875, "ratio": 1.813},
      {"depth": 1913, "ratio": 2.022}, {"depth": 1952, "ratio": 1.799}, {"depth": 1998, "ratio": 1.664},
      {"depth": 2067, "ratio": 1.799}, {"depth": 2092, "ratio": 1.724}, {"depth": 2131, "ratio": 1.769},
      {"depth": 2157, "ratio": 1.933}, {"depth": 2190, "ratio": 1.724}, {"depth": 2226, "ratio": 1.56},
      {"depth": 2252, "ratio": 1.799}, {"depth": 2298, "ratio": 2.194}, {"depth": 2328, "ratio": 1.948},
      {"depth": 2369, "ratio": 1.791}, {"depth": 2395, "ratio": 1.91}, {"depth": 2426, "ratio": 1.799},
      {"depth": 2459, "ratio": 1.59}, {"depth": 2490, "ratio": 1.679}, {"depth": 2528, "ratio": 1.731}
    ]
  },
  "hconcat": [
    {
      "width": 213,
      "height": 306,
      "view": {"fill": "white", "stroke": "#999"},
      "title": {"text": "Velocity,m/s", "fontSize": 7.5, "offset": 5},
      "layer": [
        {
          "data": {"name": "vel"},
          "mark": {"type": "line", "strokeWidth": 1.2, "clip": true},
          "encoding": {
            "x": {"field": "v", "type": "quantitative",
              "scale": {"domain": [0, 7000], "nice": false, "zero": false},
              "axis": {"values": [0, 1000, 2000, 3000, 4000, 5000, 6000, 7000], "format": "d", "title": null, "labelFontSize": 8, "tickSize": 2, "labelPadding": 1, "domainColor": "#444", "tickColor": "#444", "gridColor": "#aaa", "gridDash": [1, 2], "labelFlush": false}},
            "y": {"field": "depth", "type": "quantitative",
              "scale": {"domain": [0, 6450], "reverse": true, "nice": false, "zero": false},
              "axis": {"values": [1000, 2000, 3000, 4000, 5000, 6000], "format": "d", "title": "Depth,m", "titleFontSize": 7.5, "titlePadding": 3, "labelFontSize": 8, "tickSize": 2, "labelPadding": 1, "domainColor": "#444", "tickColor": "#444", "gridColor": "#aaa", "gridDash": [1, 2]}},
            "color": {"field": "type", "type": "nominal",
              "scale": {"domain": ["Va", "Vn"], "range": ["#ff00ff", "#ff0000"]},
              "legend": {"orient": "none", "legendX": 184, "legendY": 1, "title": null, "symbolType": "stroke", "symbolStrokeWidth": 1.5, "symbolSize": 150, "labelFontSize": 8, "fillColor": "white", "strokeColor": "#888", "padding": 3, "rowPadding": 2, "labelColor": "#222"}},
            "detail": {"field": "curve"},
            "order": {"field": "depth", "type": "quantitative"}
          }
        },
        {
          "data": {"name": "notes"},
          "transform": [{"filter": "datum.kind === 'main'"}],
          "mark": {"type": "text", "fontSize": 16, "color": "black", "font": "Liberation Sans"},
          "encoding": {
            "x": {"field": "v", "type": "quantitative"},
            "y": {"field": "depth", "type": "quantitative"},
            "text": {"field": "t"}
          }
        },
        {
          "data": {"name": "notes"},
          "transform": [{"filter": "datum.kind === 'sub'"}],
          "mark": {"type": "text", "fontSize": 11, "color": "black", "font": "Liberation Sans"},
          "encoding": {
            "x": {"field": "v", "type": "quantitative"},
            "y": {"field": "depth", "type": "quantitative"},
            "text": {"field": "t"}
          }
        }
      ]
    },
    {
      "width": 179,
      "height": 306,
      "view": {"fill": "#e6e6e6", "stroke": null},
      "title": {"text": "Vp/Vs", "fontSize": 7, "offset": 5},
      "layer": [
        {
          "data": {"name": "ratio"},
          "mark": {"type": "line", "color": "#ff0000", "strokeWidth": 3},
          "encoding": {
            "x": {"field": "ratio", "type": "quantitative",
              "scale": {"domain": [1.4, 2.2], "nice": false, "zero": false},
              "axis": {"orient": "top", "offset": -20, "values": [1.4, 1.6, 1.8, 2, 2.2], "format": "~g", "title": null, "grid": false, "domain": false, "labelFontSize": 6.5, "tickSize": 3, "labelPadding": 3, "tickColor": "black", "labelFlush": false}},
            "y": {"field": "depth", "type": "quantitative",
              "scale": {"domain": [249, 2614], "reverse": true, "nice": false, "zero": false},
              "axis": {"values": [400, 900, 1400, 1900, 2400], "format": "d", "title": "H", "titleFontSize": 7, "titlePadding": 6, "labelFontSize": 6.5, "tickSize": 2, "labelPadding": 2, "domain": false, "tickColor": "black", "grid": true, "gridColor": "#f09090", "gridWidth": 1}},
            "order": {"field": "depth", "type": "quantitative"}
          }
        },
        {
          "data": {"name": "frame"},
          "transform": [{"filter": "datum.side === 'right' || datum.side === 'bottom'"}],
          "mark": {"type": "rule", "color": "#ff6060", "strokeWidth": 1.2},
          "encoding": {
            "x": {"field": "x", "type": "quantitative"},
            "x2": {"field": "x2"},
            "y": {"field": "y", "type": "quantitative"},
            "y2": {"field": "y2"}
          }
        },
        {
          "data": {"name": "frame"},
          "transform": [{"filter": "datum.side === 'top'"}],
          "mark": {"type": "rule", "color": "black", "strokeWidth": 2},
          "encoding": {
            "x": {"field": "x", "type": "quantitative"},
            "x2": {"field": "x2"},
            "y": {"field": "y", "type": "quantitative"},
            "y2": {"field": "y2"}
          }
        },
        {
          "data": {"name": "frame"},
          "transform": [{"filter": "datum.side === 'left'"}],
          "mark": {"type": "rule", "color": "black", "strokeWidth": 3},
          "encoding": {
            "x": {"field": "x", "type": "quantitative"},
            "x2": {"field": "x2"},
            "y": {"field": "y", "type": "quantitative"},
            "y2": {"field": "y2"}
          }
        }
      ]
    }
  ]
}
